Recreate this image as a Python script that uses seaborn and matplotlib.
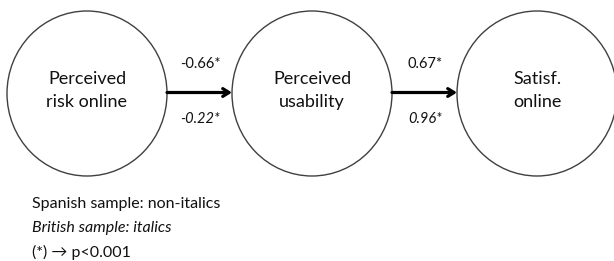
import matplotlib
matplotlib.use("Agg")
import matplotlib.pyplot as plt
from matplotlib.patches import Ellipse
import seaborn as sns

# path model: three constructs and two standardised paths
nodes = ["Perceived\nrisk online", "Perceived\nusability", "Satisf.\nonline"]
coef_spanish = [-0.66, 0.67]
coef_british = [-0.22, 0.96]
notes = ["Spanish sample: non-italics", "British sample: italics", "(*) \u2192 p<0.001"]

sns.set_style("white")
plt.rcParams['font.family'] = ['Lato', 'DejaVu Sans']

fig = plt.figure(figsize=(6.14, 2.61), dpi=100)
ax = fig.add_axes([0, 0, 1, 1])
ax.set_xlim(0, 614)
ax.set_ylim(261, 0)
ax.axis("off")

x0, step, cy = 87, 225, 93.5
rx, ry = 80, 82.5
for i, name in enumerate(nodes):
    cx = x0 + i * step
    ax.add_patch(Ellipse((cx, cy), 2 * rx, 2 * ry, fill=False,
                         edgecolor="#404040", lw=1.0))
    ax.text(cx, cy - 3, name, ha="center", va="center", fontsize=13,
            linespacing=1.55, color="#111111")

for i, (s, b) in enumerate(zip(coef_spanish, coef_british)):
    xa = x0 + i * step + rx
    xb = x0 + (i + 1) * step - rx
    ax.annotate("", xy=(xb, cy - 1), xytext=(xa, cy - 1),
                arrowprops=dict(arrowstyle="->,head_length=0.45,head_width=0.28",
                                lw=2.3, color="black", shrinkA=0, shrinkB=0))
    xm = (xa + xb) / 2 + 1
    ax.text(xm, 64, f"{s:.2f}*", ha="center", va="center", fontsize=10.5,
            color="#111111")
    ax.text(xm, 119, f"{b:.2f}*", ha="center", va="center", fontsize=10.5,
            style="italic", color="#111111")

for j, t in enumerate(notes):
    ax.text(32, 204 + j * 24, t, ha="left", va="center", fontsize=11.5,
            style="italic" if j == 1 else "normal", color="#111111")

fig.savefig("out.png", dpi=100)
